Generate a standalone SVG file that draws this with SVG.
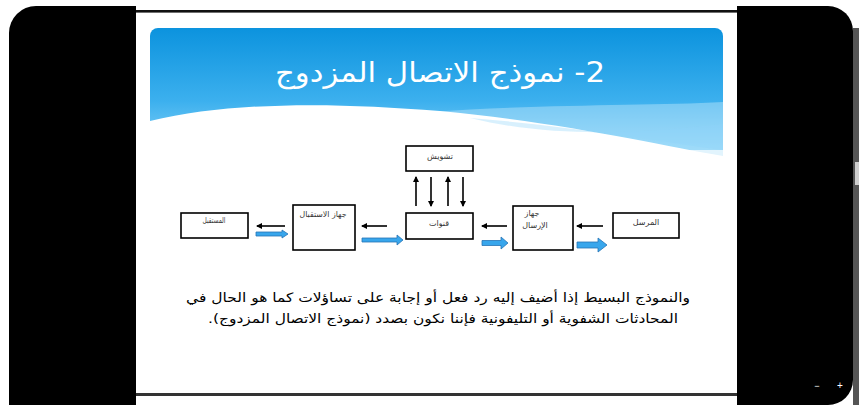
<svg xmlns="http://www.w3.org/2000/svg" width="859" height="405" viewBox="0 0 859 405">
<defs>
<linearGradient id="bg" x1="0" y1="0" x2="0" y2="1">
<stop offset="0" stop-color="#0c93de"/>
<stop offset="0.6" stop-color="#3cb0ee"/>
<stop offset="1" stop-color="#86d2f8"/>
</linearGradient>
<marker id="ah" markerWidth="6" markerHeight="6" refX="5" refY="3" orient="auto" markerUnits="userSpaceOnUse">
<path d="M0,0 L6,3 L0,6 Z" fill="#000"/>
</marker>
<style>
.box{fill:#fff;stroke:#000;stroke-width:1.6}
.lbl{font-family:"DejaVu Sans","Liberation Sans",sans-serif;font-size:8px;fill:#333;text-anchor:middle;direction:rtl;unicode-bidi:embed}
.blk{stroke:#000;stroke-width:1.6;fill:none;marker-end:url(#ah)}
.blu{fill:#38a6ec;stroke:#2674b5;stroke-width:0.8}
.body{font-family:"DejaVu Sans","Liberation Sans",sans-serif;font-size:13px;fill:#000;text-anchor:middle;direction:rtl;unicode-bidi:embed}
</style>
</defs>
<rect width="859" height="405" fill="#fff"/>
<!-- frame -->
<rect x="853" y="28" width="6" height="377" fill="#555"/>
<rect x="855" y="162" width="4" height="23" fill="#cfcfcf"/>
<path d="M36,6 H136 V405 H9 V33 A27,27 0 0 1 36,6 Z" fill="#000"/>
<path d="M737,6 H828 A25,25 0 0 1 853,31 V380 A25,25 0 0 1 828,405 H737 Z" fill="#000"/>
<rect x="136" y="10" width="601" height="2.6" fill="#111"/>
<rect x="136" y="393" width="601" height="3" fill="#333"/>
<text x="817" y="389" font-family="Liberation Sans, sans-serif" font-size="9" fill="#fff" text-anchor="middle">−</text>
<text x="840" y="389" font-family="Liberation Sans, sans-serif" font-size="10" fill="#fff" text-anchor="middle">+</text>
<!-- banner -->
<g id="banner">
<path d="M158,28 H715 A8,8 0 0 1 723,36 V150 H150 V36 A8,8 0 0 1 158,28 Z" fill="url(#bg)"/>
<path d="M430,112 C540,104 650,106 723,102 V160 H600 C560,140 500,122 430,112 Z" fill="#bfe6fb" opacity="0.45"/>
<path d="M150,121 C230,102 330,102 440,111 C560,122 660,145 723,156 V162 H150 Z" fill="#fff"/>
<path d="M470,118 C560,125 650,140 723,150 V124 C650,132 560,140 470,118 Z" fill="#8fd4f8" opacity="0.35"/>
<text x="440" y="82" direction="rtl" unicode-bidi="embed" font-family="'DejaVu Sans','Liberation Sans',sans-serif" font-size="28" fill="#fff" text-anchor="middle" textLength="330" lengthAdjust="spacingAndGlyphs">2- نموذج الاتصال المزدوج</text>
</g>
<!-- nodes -->
<g id="noise"><rect class="box" x="406" y="146" width="67" height="25"/><text class="lbl" x="440" y="159" font-size="9">تشويش</text></g>
<g id="receiver"><rect class="box" x="181" y="213" width="67" height="25"/><text class="lbl" x="214" y="223" textLength="23" lengthAdjust="spacingAndGlyphs">المستقبل</text></g>
<g id="receiver-device"><rect class="box" x="293" y="205" width="62" height="45"/><text class="lbl" x="323" y="217" textLength="47" lengthAdjust="spacingAndGlyphs">جهاز الاستقبال</text></g>
<g id="channels"><rect class="box" x="406" y="213" width="67" height="26"/><text class="lbl" x="439" y="226" font-size="9">قنوات</text></g>
<g id="sender-device"><rect class="box" x="513" y="206" width="60" height="44"/><text class="lbl" x="532" y="216" font-size="9">جهاز</text><text class="lbl" x="535" y="228" font-size="9">الإرسال</text></g>
<g id="sender"><rect class="box" x="613" y="213" width="66" height="25"/><text class="lbl" x="646" y="225" font-size="9">المرسل</text></g>
<!-- connectors -->
<g id="connectors">
<line class="blk" x1="285" y1="226" x2="257" y2="226"/>
<line class="blk" x1="387" y1="226" x2="362" y2="226"/>
<line class="blk" x1="507" y1="226" x2="482" y2="226"/>
<line class="blk" x1="603" y1="226" x2="577" y2="226"/>
<line class="blk" x1="416" y1="206" x2="416" y2="177"/>
<line class="blk" x1="431" y1="177" x2="431" y2="206"/>
<line class="blk" x1="448" y1="206" x2="448" y2="177"/>
<line class="blk" x1="463" y1="177" x2="463" y2="206"/>
<path class="blu" d="M256,232 H282 V230 L288,234 L282,238 V236 H256 Z"/>
<path class="blu" d="M362,238 H397 V235 L403,240 L397,245 V242 H362 Z"/>
<path class="blu" d="M482,240.5 H501 V237 L508,243 L501,249 V245.5 H482 Z"/>
<path class="blu" d="M577,242 H598 V238 L607,245 L598,252 V248 H577 Z"/>
</g>
<!-- body text -->
<text class="body" x="438" y="302" textLength="504" lengthAdjust="spacingAndGlyphs">والنموذج البسيط إذا أضيف إليه رد فعل أو إجابة على تساؤلات كما هو الحال في</text>
<text class="body" x="443" y="323" textLength="470" lengthAdjust="spacingAndGlyphs">المحادثات الشفوية أو التليفونية فإننا نكون بصدد (نموذج الاتصال المزدوج).</text>
</svg>
